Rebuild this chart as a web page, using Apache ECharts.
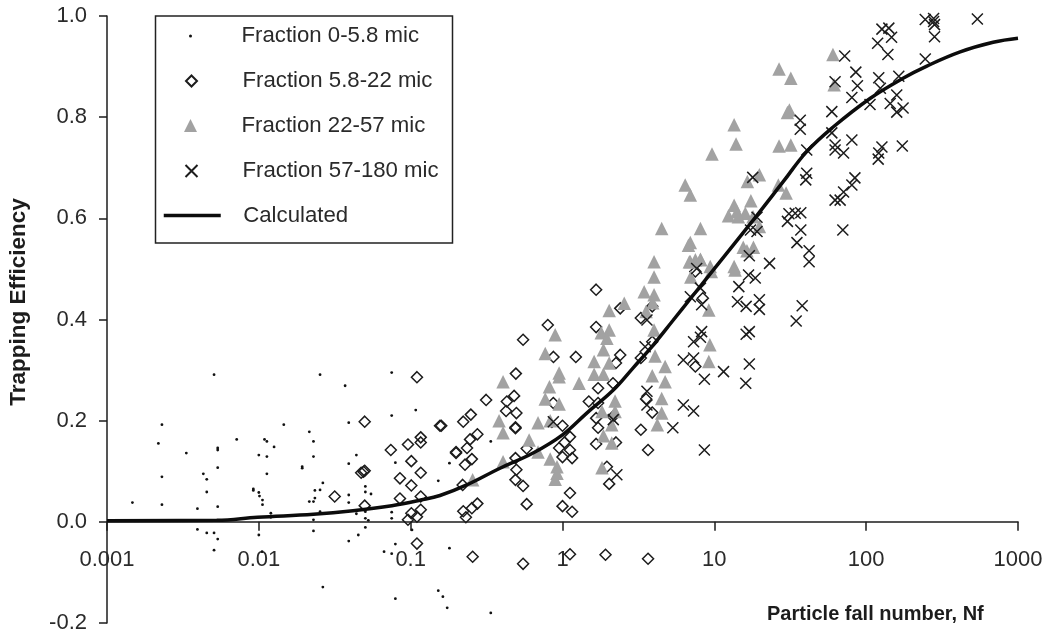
<!DOCTYPE html>
<html><head><meta charset="utf-8">
<style>html,body{margin:0;padding:0;background:#fff}#c{width:1048px;height:640px}</style>
<script src="https://cdn.jsdelivr.net/npm/echarts@6/dist/echarts.min.js"></script>
</head><body><div id="c"></div>
<script>
const fraction1 = [[.00507,.291],[.0253,.291],[.075,.295],[.037,.269],[.0023,.192],[.0391,.196],[.075,.21],[.108,.221],[.0146,.192],[.0215,.178],[.00218,.155],[.00715,.163],[.0109,.163],[.0113,.159],[.0229,.159],[.0126,.148],[.00536,.146],[.00536,.142],[.00333,.136],[.01,.132],[.0113,.129],[.0229,.129],[.0439,.132],[.0391,.115],[.0793,.117],[.00536,.107],[.0193,.109],[.0193,.106],[.0023,.089],[.00431,.095],[.00454,.084],[.0113,.095],[.0264,.077],[.0503,.07],[.0092,.065],[.0092,.062],[.00454,.059],[.01,.058],[.0101,.051],[.0234,.062],[.0253,.063],[.0503,.059],[.0548,.055],[.0391,.053],[.0234,.047],[.00147,.038],[.0023,.034],[.00536,.03],[.00394,.026],[.01057,.043],[.01057,.034],[.0215,.04],[.0229,.04],[.0391,.038],[.012,.017],[.012,.009],[.0253,.02],[.0439,.016],[.0503,.02],[.075,.019],[.075,.007],[.0229,.004],[.0503,.007],[.0526,.003],[.00394,-.015],[.00454,-.022],[.00507,-.022],[.00536,-.034],[.00507,-.056],[.01,-.026],[.0229,-.018],[.0503,-.011],[.0452,-.026],[.0391,-.038],[.102,-.016],[.0793,-.044],[.0668,-.059],[.075,-.063],[.0105,-.059],[.0264,-.129],[.0793,-.152],[.152,-.136],[.152,.081],[.163,-.148],[.174,-.17],[.337,-.18],[.18,.116],[.18,-.052],[.337,.159],[.851,.188]];
const fraction2 = [[.11,.286],[.0498,.198],[.156,.19],[.1165,.167],[.1165,.157],[.096,.153],[.074,.142],[.101,.12],[.1165,.097],[.0498,.101],[.0472,.097],[.0489,.099],[.085,.086],[.101,.072],[.1165,.05],[.0316,.05],[.085,.046],[.0498,.032],[.1165,.024],[.101,.017],[.11,.01],[.096,.004],[.11,-.043],[.159,.19],[.222,.198],[.249,.212],[.314,.241],[.43,.238],[.48,.249],[.425,.219],[.497,.215],[.49,.187],[.49,.185],[.493,.293],[.55,.36],[.8,.389],[.872,.326],[1.224,.326],[1.665,.459],[1.665,.385],[2.4,.422],[2.4,.33],[2.25,.314],[1.715,.264],[2.15,.274],[1.49,.238],[1.715,.235],[1.665,.205],[1.715,.186],[1.0,.19],[1.12,.168],[1.03,.157],[.95,.146],[1.12,.142],[1.0,.128],[1.157,.126],[1.665,.154],[2.25,.157],[1.12,.057],[1.0,.031],[1.157,.02],[.581,.035],[.55,.071],[.49,.083],[.497,.103],[.49,.126],[.581,.145],[.275,.173],[.246,.163],[.235,.146],[.199,.138],[.199,.136],[.253,.124],[.228,.113],[.22,.073],[.275,.036],[.253,.027],[.222,.021],[.231,.009],[.256,-.069],[.55,-.083],[1.12,-.064],[1.92,-.065],[3.66,-.073],[3.28,.403],[3.9,.426],[3.28,.324],[3.9,.356],[3.55,.243],[3.9,.216],[3.28,.182],[3.66,.142],[2.03,.075],[7.5,.495],[8.4,.442],[7.5,.307],[1.96,.109],[.87,.235],[2.15,.208]];
const fraction3 = [[4.01,.514],[4.01,.484],[6.85,.514],[8.1,.518],[7.5,.518],[7,.484],[9.55,.495],[3.45,.455],[4.01,.449],[3.93,.433],[3.55,.416],[4.01,.379],[2.55,.432],[2.03,.418],[1.8,.374],[2.03,.379],[1.96,.363],[1.86,.34],[1.615,.317],[2.03,.314],[1.615,.292],[1.86,.292],[.895,.37],[.77,.333],[.95,.294],[.95,.287],[1.286,.274],[.406,.277],[.82,.267],[.77,.243],[.95,.233],[.69,.196],[.83,.2],[.382,.2],[.406,.176],[.603,.162],[.69,.138],[.406,.119],[.83,.124],[.92,.109],[.92,.096],[.895,.084],[.256,.083],[4.07,.328],[4.74,.307],[3.9,.289],[4.74,.277],[4.5,.244],[4.5,.215],[4.21,.192],[2.22,.239],[1.82,.218],[2.22,.218],[2.11,.192],[1.86,.17],[2.11,.156],[1.82,.107],[9.2,.419],[9.35,.35],[9.2,.317],[13.7,.498],[16.4,.536],[26.7,.895],[31.9,.877],[60.4,.924],[61.5,.864],[31.2,.814],[30.3,.809],[13.5,.785],[13.9,.747],[9.65,.727],[26.7,.743],[31.9,.745],[19.8,.686],[16.5,.673],[6.43,.666],[6.95,.646],[26.4,.666],[29.7,.65],[17.4,.635],[13.5,.626],[12.4,.605],[14.1,.613],[16,.61],[14.4,.603],[18,.603],[4.5,.58],[8.1,.58],[6.95,.552],[6.75,.547],[19.8,.584],[15.5,.543],[18.1,.543],[6.95,.514],[8.1,.519],[13.5,.505],[9.4,.505]];
const fraction4 = [[72.2,.921],[245,.993],[278,.989],[278,.995],[282,.983],[540,.994],[282,.959],[127,.974],[141,.976],[147,.958],[119,.946],[139,.924],[245,.915],[85.5,.889],[87.6,.862],[62.4,.87],[121,.878],[164,.881],[124,.857],[80.5,.839],[106,.825],[159,.844],[144,.827],[175,.818],[159,.81],[59.4,.811],[36.8,.794],[36.8,.776],[59.4,.769],[80.5,.755],[62.4,.745],[62.4,.735],[71,.729],[40.6,.735],[127,.741],[121,.729],[120,.717],[173,.743],[40.6,.689],[40,.676],[17.9,.681],[84.3,.68],[80.5,.666],[71,.652],[62.4,.636],[67.4,.636],[70.2,.577],[31,.609],[30.3,.594],[34.1,.61],[37.1,.611],[37.1,.577],[35,.552],[42.1,.536],[42.1,.514],[19.1,.602],[17.3,.577],[19.1,.574],[17,.526],[23.1,.511],[7.65,.501],[8.1,.462],[6.95,.445],[8.25,.429],[16.8,.488],[18.6,.482],[14.5,.465],[14.2,.435],[16.2,.426],[19.8,.439],[19.8,.42],[37.9,.427],[34.6,.397],[8.25,.376],[7.3,.356],[8.1,.365],[17,.376],[16.2,.371],[6.25,.32],[7.3,.324],[17,.312],[11.5,.297],[8.6,.282],[16.1,.274],[6.25,.231],[7.3,.219],[5.33,.186],[8.6,.142],[3.6,.399],[3.5,.346],[3.6,.258],[3.6,.231],[2.28,.093],[2.16,.202],[.87,.198]];
const calculated = [[.001,.002],[.00528,.003],[.0098,.009],[.0229,.015],[.0417,.022],[.0751,.032],[.1165,.043],[.156,.052],[.234,.073],[.388,.106],[.64,.136],[1,.172],[1.445,.215],[2.17,.261],[2.93,.305],[3.97,.35],[5.37,.399],[6.95,.441],[9.86,.498],[19.1,.606],[28.5,.673],[40.6,.732],[60.9,.781],[106,.837],[175,.877],[251,.901],[416,.929],[686,.948],[1000,.956]];
const seriesNames = ['Fraction 0-5.8 mic','Fraction 5.8-22 mic','Fraction 22-57 mic','Fraction 57-180 mic','Calculated'];

const FONT = '"Liberation Sans", Arial, sans-serif';
const INK = '#1c1c1c';
const CROSS = 'path://M0 0L10 10M10 0L0 10';
const legendRow = (name, cy, w, h) => ({
  data: [name], orient: 'horizontal', left: 190.5 - w / 2, top: cy - 12, padding: 0,
  itemWidth: w, itemHeight: h, selectedMode: false,
  lineStyle: { width: 3.5 },
  textStyle: { fontFamily: FONT, fontSize: 22.2, color: '#2a2a2a', padding: [0, 0, 0, 241.5 - (190.5 + w / 2) - 5], height: 24, lineHeight: 24 }
});

const chart = echarts.init(document.getElementById('c'), null, { renderer: 'canvas' });
chart.setOption({
  animation: false,
  backgroundColor: '#fff',
  grid: { left: 107, right: 30, top: 16, bottom: 17, containLabel: false, outerBoundsMode: 'none' },
  xAxis: {
    type: 'log', logBase: 10, min: 0.001, max: 1000,
    splitLine: { show: false }, minorTick: { show: false },
    axisLine: { show: true, onZero: true, lineStyle: { color: INK, width: 1.5 } },
    axisTick: { show: true, length: 9, inside: false, lineStyle: { color: INK, width: 1.5 } },
    axisLabel: { margin: -74, fontFamily: FONT, fontSize: 22, color: '#2a2a2a', showMinLabel: true, showMaxLabel: true,
      formatter: v => String(Number(Number(v).toPrecision(1))) }
  },
  yAxis: {
    type: 'value', min: -0.2, max: 1, interval: 0.2,
    splitLine: { show: false },
    axisLine: { show: true, onZero: false, lineStyle: { color: INK, width: 1.5 } },
    axisTick: { show: true, length: 8, lineStyle: { color: INK, width: 1.5 } },
    axisLabel: { margin: 20, fontFamily: FONT, fontSize: 22, color: '#2a2a2a', formatter: v => v.toFixed(1) }
  },
  legend: [
    legendRow(seriesNames[0], 36, 3, 3),
    legendRow(seriesNames[1], 81, 11, 11),
    legendRow(seriesNames[2], 125.5, 13, 13),
    legendRow(seriesNames[3], 171, 12, 12),
    legendRow(seriesNames[4], 215.5, 57, 3)
  ],
  title: { text: 'Particle fall number, Nf', left: 767, top: 604, padding: 0,
    textStyle: { fontFamily: FONT, fontSize: 20, fontWeight: 'bold', color: INK } },
  graphic: [
    { type: 'rect', z: -1, shape: { x: 155.5, y: 16, width: 297, height: 227 },
      style: { fill: '#fff', stroke: '#222', lineWidth: 1.5 } },
    { type: 'text', x: 19, y: 302, rotation: Math.PI / 2,
      style: { text: 'Trapping Efficiency', fontFamily: FONT, fontSize: 22.5, fontWeight: 'bold', fill: INK, align: 'center', verticalAlign: 'middle' } }
  ],
  series: [
    { name: seriesNames[0], type: 'scatter', data: fraction1, symbol: 'circle', symbolSize: 2.8, itemStyle: { color: '#111', opacity: 1 } },
    { name: seriesNames[1], type: 'scatter', data: fraction2, symbol: 'diamond', symbolSize: 11, itemStyle: { color: 'rgba(0,0,0,0)', borderColor: '#1c1c1c', borderWidth: 1.5, opacity: 1 } },
    { name: seriesNames[2], type: 'scatter', data: fraction3, symbol: 'triangle', symbolSize: 13.5, itemStyle: { color: '#a2a2a2', opacity: 1 } },
    { name: seriesNames[3], type: 'scatter', data: fraction4, symbol: CROSS, symbolSize: 11, itemStyle: { color: 'rgba(0,0,0,0)', borderColor: '#1c1c1c', borderWidth: 1.5, opacity: 1 } },
    { name: seriesNames[4], type: 'line', data: calculated, smooth: 0.4, symbol: 'none', lineStyle: { color: '#0c0c0c', width: 3.5 }, itemStyle: { color: '#0c0c0c' } }
  ]
});
</script></body></html>
